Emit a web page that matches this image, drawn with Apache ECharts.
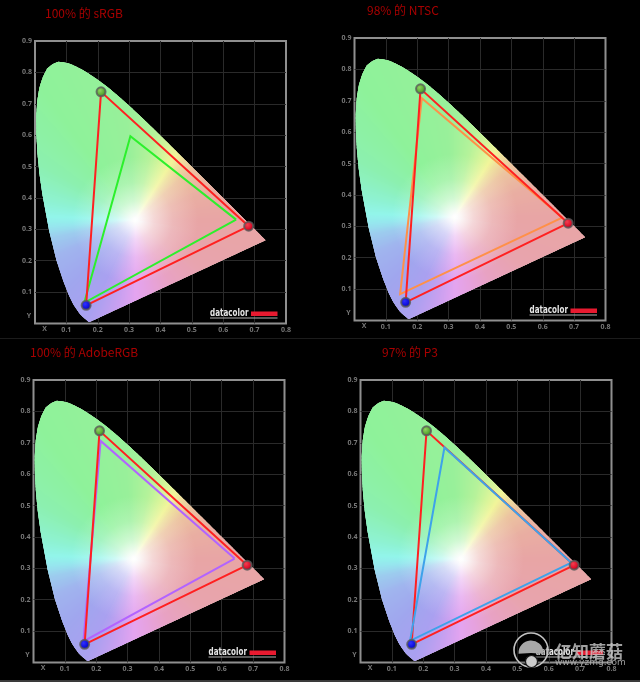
<!DOCTYPE html>
<html><head><meta charset="utf-8">
<style>html,body{margin:0;background:#000}#c{width:640px;height:682px;filter:blur(0.45px)}</style>
<script src="https://cdn.jsdelivr.net/npm/echarts@6/dist/echarts.min.js"></script>
</head><body><div id="c"></div>
<script>
// Spectral locus boundary (x, y)
const locus = [[.1741,.005],[.1714,.0051],[.1689,.0069],[.1644,.0109],[.1566,.0177],[.144,.0297],[.1241,.0578],[.1096,.0868],[.0913,.1327],[.0687,.2007],[.0454,.295],[.0235,.4127],[.0144,.476],[.0082,.5384],[.0047,.598],[.0039,.6548],[.0069,.706],[.0139,.7502],[.0248,.7847],[.0389,.812],[.0555,.826],[.0743,.8338],[.0942,.8315],[.1142,.8262],[.1345,.8165],[.1547,.8059],[.1929,.7816],[.2296,.7543],[.2658,.7243],[.3016,.6923],[.3373,.6589],[.3731,.6245],[.4087,.5896],[.4441,.5547],[.4788,.5202],[.5125,.4866],[.5448,.4544],[.5752,.4242],[.6029,.3965],[.627,.3725],[.6658,.334],[.6915,.3083],[.7079,.292],[.726,.274],[.7347,.2653]];
const whitePoint = [.32,.33];
// Shading seen in the picture, by direction from the white point (degrees, colour)
const hueAngles = [0,22,42,52,58,66,78,95,125,150,168,178,184,192,205,225,245,258,270,282,298,325,360];
const hueColors = ['#e8a5a5','#e9aea2','#ecc4a0','#eedf9e','#f1f59a','#d8f59a','#b4f29a','#98f09a','#8ef29a','#8cf0b0','#8ef2d2','#92f5ea','#96e8ee','#9cccee','#a0b4ee','#a0a6ee','#aaa0f0','#c8a0f0','#e4a4f0','#e6a2de','#e8a2c4','#e8a4ae','#e8a5a5'];

const measured = [[.681,.31],[.2105,.738],[.163,.058]];
const srgb = [[.641,.331],[.304,.597],[.157,.066]];
const ntsc = [[.662,.328],[.2146,.708],[.1455,.084]];
const adobe = [[.641,.331],[.214,.706],[.159,.067]];
const p3 = [[.672,.318],[.2675,.685],[.158,.069]];
const gamutColors = ['#2cf02c','#ff9048','#b264ff','#3ea2ea'];
const gamuts = [srgb,ntsc,adobe,p3];
const titles = ['100% 的 sRGB','98% 的 NTSC','100% 的 AdobeRGB','97% 的 P3'];
const xTicks = ['','0.1','0.2','0.3','0.4','0.5','0.6','0.7','0.8'];
const yTicks = ['','0.1','0.2','0.3','0.4','0.5','0.6','0.7','0.8','0.9'];

const rects = [[35,41],[354.5,38],[33.5,380],[360.5,380]];
const titlePos = [[45,7],[367,4.5],[30,346.5],[382,346.5]];

function hex(c){return [1,3,5].map(i=>parseInt(c.substr(i,2),16));}
function colorAt(a){
  a=(a%360+360)%360;
  let i=0; while(i<hueAngles.length-2&&a>hueAngles[i+1]) i++;
  const t=(a-hueAngles[i])/(hueAngles[i+1]-hueAngles[i]);
  const p=hex(hueColors[i]),q=hex(hueColors[i+1]);
  return p.map((v,k)=>v+(q[k]-v)*t);
}
function mixWhite(c,m){return 'rgb('+c.map(v=>Math.round(255+(v-255)*m)).join(',')+')';}
function wedge(api,a,b,over){
  const w=whitePoint, mx=(a[0]+b[0])/2,my=(a[1]+b[1])/2;
  const ang=Math.atan2(my-w[1],mx-w[0])*180/Math.PI, c=colorAt(ang);
  const R=Math.hypot(mx-w[0],my-w[1]);
  const P0=api.coord(w),Pm=api.coord([mx,my]);
  const off=r=>Math.min(r/R,1);
  const fill={type:'linear',global:true,x:P0[0],y:P0[1],x2:Pm[0],y2:Pm[1],colorStops:[
    {offset:0,color:'#fff'},{offset:off(.02),color:mixWhite(c,.12)},{offset:off(.06),color:mixWhite(c,.45)},{offset:off(.12),color:mixWhite(c,.78)},{offset:off(.2),color:mixWhite(c,1)},{offset:1,color:mixWhite(c,1)}]};
  return {type:'polygon',shape:{points:[P0,api.coord(a),api.coord(b),api.coord(over)]},style:{fill:fill},silent:true};
}
function lerp(a,b,t){return [a[0]+(b[0]-a[0])*t,a[1]+(b[1]-a[1])*t];}
function span(a,b){
  const w=whitePoint;
  let d=Math.abs(Math.atan2(b[1]-w[1],b[0]-w[0])-Math.atan2(a[1]-w[1],a[0]-w[0]));
  if(d>Math.PI) d=2*Math.PI-d;
  return d*180/Math.PI;
}
function renderGamut(params,api){
  const i=params.dataIndex,n=locus.length;
  const a=locus[i],b=locus[(i+1)%n],c=locus[(i+2)%n];
  const d=span(a,b), steps=Math.max(1,Math.ceil(d/1.2));
  const dn=span(b,c);
  const ch=[];
  if(i===0){
    // pale underlay keeps the black background from showing between slivers
    const P0=api.coord(whitePoint);
    ch.push({type:'polygon',shape:{points:locus.map(p=>api.coord(p))},silent:true,
      style:{fill:{type:'radial',global:true,x:P0[0],y:P0[1],r:60,colorStops:[{offset:0,color:'#fff'},{offset:1,color:'#c8d8c8'}]}}});
  }
  const ov=1.6;
  for(let s=0;s<steps;s++){
    const t0=s/steps,t1=(s+1)/steps;
    // each sliver runs a little under the next one so no seam shows
    const tOver=t1+ov/(d||1);
    const over = tOver<=1 ? lerp(a,b,tOver) : lerp(b,c,Math.min(1,ov/(dn||1)));
    ch.push(wedge(api,lerp(a,b,t0),lerp(a,b,t1),over));
  }
  return {type:'group',children:ch};
}
function close(t){return t.concat([t[0]]);}
function ball(rim,mid,hi){
  return {type:'radial',x:.4,y:.38,r:.65,colorStops:[{offset:0,color:hi},{offset:.55,color:mid},{offset:1,color:rim}]};
}
const balls=[[measured[0],ball('#701020','#e0102c','#f04050')],[measured[1],ball('#3c6a2c','#5cae34','#90d060')],[measured[2],ball('#101078','#1010e0','#3030ff')]];

const grid=[],xAxis=[],yAxis=[],series=[],title=[],graphic=[];
const font='"Noto Sans CJK SC","Noto Sans",sans-serif';
const split={showMinLine:false,showMaxLine:false,lineStyle:{color:'#2a2a2a',width:1}};
rects.forEach((r,p)=>{
  grid.push({left:r[0],top:r[1],width:251,height:282.5,show:true,borderColor:'#8f8f8f',borderWidth:2,backgroundColor:'#000'});
  xAxis.push({type:'value',gridIndex:p,min:0,max:.8,interval:.1,axisLine:{show:false},axisTick:{show:false},splitLine:split,
    axisLabel:{color:'#787878',fontSize:7,fontWeight:'bold',fontFamily:'Open Sans',margin:3,formatter:(v)=>xTicks[Math.round(v*10)]}});
  yAxis.push({type:'value',gridIndex:p,min:0,max:.9,interval:.1,axisLine:{show:false},axisTick:{show:false},splitLine:split,
    axisLabel:{color:'#787878',fontSize:7,fontWeight:'bold',fontFamily:'Open Sans',margin:3,formatter:(v)=>yTicks[Math.round(v*10)]}});
  title.push({text:titles[p],left:titlePos[p][0],top:titlePos[p][1],padding:0,textStyle:{color:'#a80000',fontSize:12,fontWeight:'normal',fontFamily:font}});
  series.push({type:'custom',name:'gamut'+p,xAxisIndex:p,yAxisIndex:p,z:2,silent:true,clip:false,data:locus,renderItem:renderGamut,encode:{x:0,y:1}});
  series.push({type:'line',name:titles[p],xAxisIndex:p,yAxisIndex:p,z:p==3?4.5:3,clip:false,symbol:'none',silent:true,data:close(gamuts[p]),lineStyle:{color:gamutColors[p],width:2,join:'miter'}});
  series.push({type:'line',name:'measured'+p,xAxisIndex:p,yAxisIndex:p,z:4,clip:false,symbol:'none',silent:true,data:close(measured),lineStyle:{color:'#ff2020',width:2,join:'miter'}});
  balls.forEach((b,i)=>series.push({type:'scatter',name:'ball'+p+i,xAxisIndex:p,yAxisIndex:p,z:5,clip:false,silent:true,symbolSize:9,data:[b[0]],
    itemStyle:{color:b[1],opacity:1,borderColor:'rgba(90,90,90,.8)',borderWidth:2}}));
  const L=r[0],B=r[1]+282.5;
  graphic.push(
    {type:'text',z:10,silent:true,style:{text:'X',x:L+9.5,y:B+5,fill:'#787878',font:'bold 7px "Open Sans"',align:'center',verticalAlign:'middle'}},
    {type:'text',z:10,silent:true,style:{text:'Y',x:L-4,y:B-8,fill:'#787878',font:'bold 7px "Open Sans"',align:'right',verticalAlign:'middle'}},
    {type:'text',z:10,silent:true,x:L+175,y:B-10.5,scaleX:.72,style:{text:'datacolor',x:0,y:0,fill:'#e6e6e6',font:'bold 10px "DejaVu Sans"',align:'left',verticalAlign:'middle'}},
    {type:'rect',z:10,silent:true,shape:{x:L+216,y:B-12,width:26.5,height:4.5},style:{fill:'#e81a30'}},
    {type:'rect',z:10,silent:true,shape:{x:L+175,y:B-6,width:67.5,height:1},style:{fill:'#b0b0b0'}}
  );
});
// dividers
graphic.push({type:'rect',silent:true,z:1,shape:{x:0,y:338,width:640,height:1},style:{fill:'#1c1c1c'}});
graphic.push({type:'rect',silent:true,z:1,shape:{x:0,y:680,width:640,height:2},style:{fill:'#3a3a3a'}});
// watermark
graphic.push(
 {type:'circle',z:20,silent:true,shape:{cx:531,cy:650,r:17},style:{fill:'rgba(0,0,0,.2)',stroke:'#c4c4c4',lineWidth:1.6}},
 {type:'sector',z:20,silent:true,shape:{cx:531,cy:653,r:12.5,r0:0,startAngle:Math.PI*0.98,endAngle:Math.PI*2.02,clockwise:true},style:{fill:'#a8a8a8'}},
 {type:'circle',z:20,silent:true,shape:{cx:531.5,cy:661.5,r:6},style:{fill:'#cccccc',stroke:'#1a1a1a',lineWidth:1.2}},
 {type:'text',z:20,silent:true,style:{text:'亿知蘑菇',x:555,y:651.5,fill:'rgba(200,200,200,.8)',font:'bold 17px "Noto Sans CJK SC"',align:'left',verticalAlign:'middle'}},
 {type:'text',z:20,silent:true,style:{text:'www.yzmg.com',x:555,y:663,fill:'rgba(175,175,175,.9)',font:'9px "DejaVu Sans"',align:'left',verticalAlign:'middle'}}
);
const chart=echarts.init(document.getElementById('c'),null,{renderer:'canvas',width:640,height:682});
chart.setOption({backgroundColor:'#000',animation:false,tooltip:{show:false},title,grid,xAxis,yAxis,series,graphic});
</script></body></html>
